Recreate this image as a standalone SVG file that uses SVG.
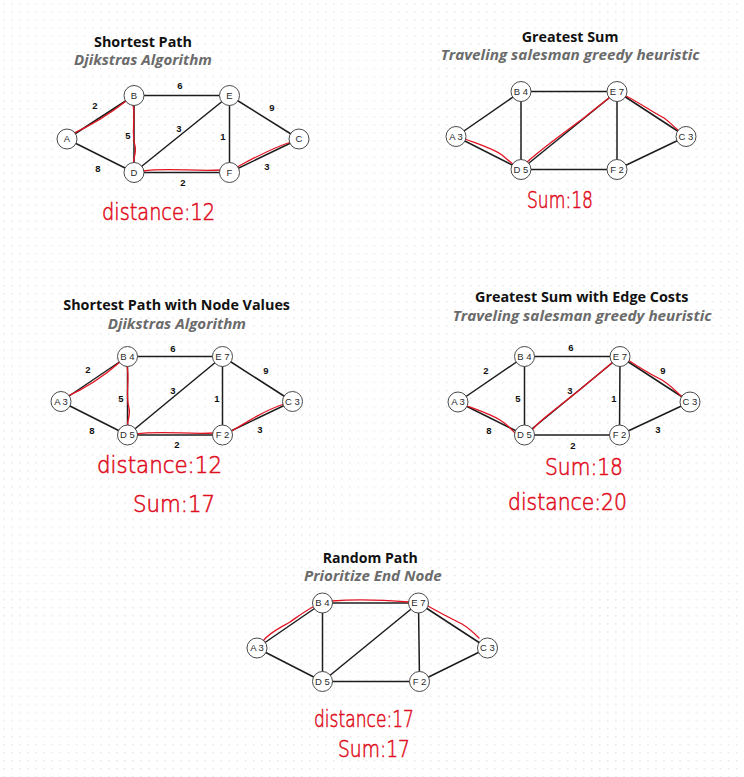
<svg xmlns="http://www.w3.org/2000/svg" width="744" height="777" viewBox="0 0 744 777">
<defs>
<pattern id="dots" x="3.3" y="3.3" width="8.05" height="8.05" patternUnits="userSpaceOnUse">
<circle cx="0.7" cy="0.7" r="0.75" fill="#e2e2e2"/>
</pattern>
<style>
.node circle{fill:#fff;stroke:#4a4a4a;stroke-width:1}
.node text{font-family:"Liberation Sans",Arial,sans-serif;font-size:9.5px;fill:#2a2a2a;text-anchor:middle}
.edge{stroke:#1c1c1c;stroke-width:1.5}
.hl{stroke:#e31322;stroke-width:1.3;fill:none;stroke-linecap:round;stroke-linejoin:round}
.w{font-family:"Liberation Sans",Arial,sans-serif;font-weight:700;font-size:9.5px;text-anchor:middle;fill:#111}
.title{font-family:"Open Sans","Liberation Sans",sans-serif;font-weight:700;font-size:13.5px;fill:#111}
.sub{font-family:"Open Sans","Liberation Sans",sans-serif;font-weight:700;font-style:italic;font-size:14px;fill:#6b6b6b}
.note{font-family:"DejaVu Sans","Liberation Sans",sans-serif;font-weight:200;font-size:23px;fill:#e0101f;stroke:#e0101f;stroke-width:0.6}
</style>
</defs>
<rect width="744" height="777" fill="#fff"/>
<rect width="744" height="777" fill="url(#dots)"/>

<!-- Panel 1 -->
<g id="panel1">
<text class="title" x="94" y="46.5" textLength="98" lengthAdjust="spacingAndGlyphs">Shortest Path</text>
<text class="sub" x="74" y="64.5" textLength="138" lengthAdjust="spacingAndGlyphs">Djikstras Algorithm</text>
<g id="p1-connectors">
<line class="edge" x1="67" y1="139" x2="134" y2="95.5"/>
<line class="edge" x1="67" y1="139" x2="134" y2="172.5"/>
<line class="edge" x1="134" y1="95.5" x2="229.5" y2="95.5"/>
<line class="edge" x1="134" y1="95.5" x2="134" y2="172.5"/>
<line class="edge" x1="229.5" y1="95.5" x2="134" y2="172.5"/>
<line class="edge" x1="229.5" y1="95.5" x2="229.5" y2="172.5"/>
<line class="edge" x1="229.5" y1="95.5" x2="299" y2="139"/>
<line class="edge" x1="134" y1="172.5" x2="229.5" y2="172.5"/>
<line class="edge" x1="229.5" y1="172.5" x2="299" y2="139"/>
<path class="hl" d="M72,134 Q101,121 126,101"/>
<path class="hl" d="M133,105 C136,118 131,132 135,146 C137,154 132,160 134,164"/>
<path class="hl" d="M143,171 C168,167 195,172 221,170"/>
<path class="hl" d="M237,167 C254,158 272,148 291,142"/>
<text class="w" x="95" y="109">2</text>
<text class="w" x="180" y="88.5">6</text>
<text class="w" x="272" y="110.5">9</text>
<text class="w" x="179" y="131.5">3</text>
<text class="w" x="128" y="138.5">5</text>
<text class="w" x="223" y="139.5">1</text>
<text class="w" x="98" y="171.5">8</text>
<text class="w" x="183" y="185.5">2</text>
<text class="w" x="267" y="169.5">3</text>
</g>
<g id="p1-A" class="node"><circle cx="67" cy="139" r="10"/><text x="67" y="142.3">A</text></g>
<g id="p1-B" class="node"><circle cx="134" cy="95.5" r="10"/><text x="134" y="98.8">B</text></g>
<g id="p1-E" class="node"><circle cx="229.5" cy="95.5" r="10"/><text x="229.5" y="98.8">E</text></g>
<g id="p1-C" class="node"><circle cx="299" cy="139" r="10"/><text x="299" y="142.3">C</text></g>
<g id="p1-D" class="node"><circle cx="134" cy="172.5" r="10"/><text x="134" y="175.8">D</text></g>
<g id="p1-F" class="node"><circle cx="229.5" cy="172.5" r="10"/><text x="229.5" y="175.8">F</text></g>
<text class="note" x="102" y="220" textLength="113" lengthAdjust="spacingAndGlyphs">distance:12</text>
</g>

<!-- Panel 2 -->
<g id="panel2">
<text class="title" x="521.7" y="42" textLength="96.7" lengthAdjust="spacingAndGlyphs">Greatest Sum</text>
<text class="sub" x="440.7" y="60" textLength="259" lengthAdjust="spacingAndGlyphs">Traveling salesman greedy heuristic</text>
<g id="p2-connectors">
<line class="edge" x1="456" y1="136.5" x2="521" y2="91.5"/>
<line class="edge" x1="456" y1="136.5" x2="521" y2="169.5"/>
<line class="edge" x1="521" y1="91.5" x2="617" y2="91.5"/>
<line class="edge" x1="521" y1="91.5" x2="521" y2="169.5"/>
<line class="edge" x1="617" y1="91.5" x2="521" y2="169.5"/>
<line class="edge" x1="617" y1="91.5" x2="617" y2="169.5"/>
<line class="edge" x1="617" y1="91.5" x2="686" y2="136.5"/>
<line class="edge" x1="521" y1="169.5" x2="617" y2="169.5"/>
<line class="edge" x1="617" y1="169.5" x2="686" y2="136.5"/>
<path class="hl" d="M465,139 C478,144 492,148 502,155 C508,160 511,163 513,164"/>
<path class="hl" d="M527,162 C545,146 565,132 585,117 C596,108 604,102 610,97"/>
<path class="hl" d="M626,96 C640,103 652,112 664,118 C671,123 675,128 678,130"/>
</g>
<g id="p2-A" class="node"><circle cx="456" cy="136.5" r="10"/><text x="456" y="139.8">A 3</text></g>
<g id="p2-B" class="node"><circle cx="521" cy="91.5" r="10"/><text x="521" y="94.8">B 4</text></g>
<g id="p2-E" class="node"><circle cx="617" cy="91.5" r="10"/><text x="617" y="94.8">E 7</text></g>
<g id="p2-C" class="node"><circle cx="686" cy="136.5" r="10"/><text x="686" y="139.8">C 3</text></g>
<g id="p2-D" class="node"><circle cx="521" cy="169.5" r="10"/><text x="521" y="172.8">D 5</text></g>
<g id="p2-F" class="node"><circle cx="617" cy="169.5" r="10"/><text x="617" y="172.8">F 2</text></g>
<text class="note" x="527" y="208" textLength="66" lengthAdjust="spacingAndGlyphs">Sum:18</text>
</g>

<!-- Panel 3 -->
<g id="panel3">
<text class="title" x="63.3" y="310" textLength="226.7" lengthAdjust="spacingAndGlyphs">Shortest Path with Node Values</text>
<text class="sub" x="107.7" y="328.5" textLength="138.3" lengthAdjust="spacingAndGlyphs">Djikstras Algorithm</text>
<g id="p3-connectors">
<line class="edge" x1="61" y1="401.5" x2="127.5" y2="356.5"/>
<line class="edge" x1="61" y1="401.5" x2="127.5" y2="435"/>
<line class="edge" x1="127.5" y1="356.5" x2="222.5" y2="356.5"/>
<line class="edge" x1="127.5" y1="356.5" x2="127.5" y2="435"/>
<line class="edge" x1="222.5" y1="356.5" x2="127.5" y2="435"/>
<line class="edge" x1="222.5" y1="356.5" x2="222.5" y2="435"/>
<line class="edge" x1="222.5" y1="356.5" x2="292.5" y2="401.5"/>
<line class="edge" x1="127.5" y1="435" x2="222.5" y2="435"/>
<line class="edge" x1="222.5" y1="435" x2="292.5" y2="401.5"/>
<path class="hl" d="M66,397 Q95,384 120,362"/>
<path class="hl" d="M127,366 C130,380 125,394 129,408 C131,417 126,422 128,426"/>
<path class="hl" d="M136,434 C162,430 190,435 214,433"/>
<path class="hl" d="M230,432 C248,421 266,410 284,404"/>
<text class="w" x="173" y="351.5">6</text>
<text class="w" x="88" y="372.5">2</text>
<text class="w" x="266" y="373.5">9</text>
<text class="w" x="173" y="393.5">3</text>
<text class="w" x="121" y="401.5">5</text>
<text class="w" x="217" y="401.5">1</text>
<text class="w" x="92" y="433.5">8</text>
<text class="w" x="177" y="448">2</text>
<text class="w" x="260" y="432.5">3</text>
</g>
<g id="p3-A" class="node"><circle cx="61" cy="401.5" r="10"/><text x="61" y="404.8">A 3</text></g>
<g id="p3-B" class="node"><circle cx="127.5" cy="356.5" r="10"/><text x="127.5" y="359.8">B 4</text></g>
<g id="p3-E" class="node"><circle cx="222.5" cy="356.5" r="10"/><text x="222.5" y="359.8">E 7</text></g>
<g id="p3-C" class="node"><circle cx="292.5" cy="401.5" r="10"/><text x="292.5" y="404.8">C 3</text></g>
<g id="p3-D" class="node"><circle cx="127.5" cy="435" r="10"/><text x="127.5" y="438.3">D 5</text></g>
<g id="p3-F" class="node"><circle cx="222.5" cy="435" r="10"/><text x="222.5" y="438.3">F 2</text></g>
<text class="note" x="97" y="473" textLength="125" lengthAdjust="spacingAndGlyphs">distance:12</text>
<text class="note" x="133" y="512" textLength="82" lengthAdjust="spacingAndGlyphs">Sum:17</text>
</g>

<!-- Panel 4 -->
<g id="panel4">
<text class="title" x="475" y="302" textLength="213.3" lengthAdjust="spacingAndGlyphs">Greatest Sum with Edge Costs</text>
<text class="sub" x="452.7" y="320.5" textLength="259" lengthAdjust="spacingAndGlyphs">Traveling salesman greedy heuristic</text>
<g id="p4-connectors">
<line class="edge" x1="458" y1="402" x2="524.5" y2="356.5"/>
<line class="edge" x1="458" y1="402" x2="524.5" y2="435"/>
<line class="edge" x1="524.5" y1="356.5" x2="620" y2="356.5"/>
<line class="edge" x1="524.5" y1="356.5" x2="524.5" y2="435"/>
<line class="edge" x1="620" y1="356.5" x2="524.5" y2="435"/>
<line class="edge" x1="620" y1="356.5" x2="619.5" y2="435"/>
<line class="edge" x1="620" y1="356.5" x2="690" y2="402"/>
<line class="edge" x1="524.5" y1="435" x2="619.5" y2="435"/>
<line class="edge" x1="619.5" y1="435" x2="690" y2="402"/>
<path class="hl" d="M467,406 C478,410 490,414 500,420 C507,424 512,430 515,433"/>
<path class="hl" d="M531,433 C528,435 533,427 548,415 C570,398 592,380 613,362"/>
<path class="hl" d="M628,360 C640,368 650,374 662,380 C670,385 676,391 681,396"/>
<text class="w" x="571" y="351">6</text>
<text class="w" x="486" y="373.5">2</text>
<text class="w" x="663" y="373.5">9</text>
<text class="w" x="570" y="393.5">3</text>
<text class="w" x="518" y="401.5">5</text>
<text class="w" x="614" y="401.5">1</text>
<text class="w" x="489" y="433.5">8</text>
<text class="w" x="573" y="449">2</text>
<text class="w" x="658" y="432.5">3</text>
</g>
<g id="p4-A" class="node"><circle cx="458" cy="402" r="10"/><text x="458" y="405.3">A 3</text></g>
<g id="p4-B" class="node"><circle cx="524.5" cy="356.5" r="10"/><text x="524.5" y="359.8">B 4</text></g>
<g id="p4-E" class="node"><circle cx="620" cy="356.5" r="10"/><text x="620" y="359.8">E 7</text></g>
<g id="p4-C" class="node"><circle cx="690" cy="402" r="10"/><text x="690" y="405.3">C 3</text></g>
<g id="p4-D" class="node"><circle cx="524.5" cy="435" r="10"/><text x="524.5" y="438.3">D 5</text></g>
<g id="p4-F" class="node"><circle cx="619.5" cy="435" r="10"/><text x="619.5" y="438.3">F 2</text></g>
<text class="note" x="545" y="475" textLength="78" lengthAdjust="spacingAndGlyphs">Sum:18</text>
<text class="note" x="508" y="510" textLength="119" lengthAdjust="spacingAndGlyphs">distance:20</text>
</g>

<!-- Panel 5 -->
<g id="panel5">
<text class="title" x="322.7" y="563" textLength="95" lengthAdjust="spacingAndGlyphs">Random Path</text>
<text class="sub" x="304" y="581" textLength="137.7" lengthAdjust="spacingAndGlyphs">Prioritize End Node</text>
<g id="p5-connectors">
<line class="edge" x1="257" y1="648" x2="322.5" y2="603"/>
<line class="edge" x1="257" y1="648" x2="322.5" y2="681.5"/>
<line class="edge" x1="322.5" y1="603" x2="418.5" y2="603"/>
<line class="edge" x1="322.5" y1="603" x2="322.5" y2="681.5"/>
<line class="edge" x1="418.5" y1="603" x2="322.5" y2="681.5"/>
<line class="edge" x1="418.5" y1="603" x2="419.5" y2="681.5"/>
<line class="edge" x1="418.5" y1="603" x2="487.5" y2="648"/>
<line class="edge" x1="322.5" y1="681.5" x2="419.5" y2="681.5"/>
<line class="edge" x1="419.5" y1="681.5" x2="487.5" y2="648"/>
<path class="hl" d="M263,641 C270,632 280,628 290,622 C300,615 308,609 315,606"/>
<path class="hl" d="M332,601 C355,599 385,600 409,602"/>
<path class="hl" d="M428,606 C440,613 450,618 462,624 C469,628 475,634 479,638"/>
</g>
<g id="p5-A" class="node"><circle cx="257" cy="648" r="10"/><text x="257" y="651.3">A 3</text></g>
<g id="p5-B" class="node"><circle cx="322.5" cy="603" r="10"/><text x="322.5" y="606.3">B 4</text></g>
<g id="p5-E" class="node"><circle cx="418.5" cy="603" r="10"/><text x="418.5" y="606.3">E 7</text></g>
<g id="p5-C" class="node"><circle cx="487.5" cy="648" r="10"/><text x="487.5" y="651.3">C 3</text></g>
<g id="p5-D" class="node"><circle cx="322.5" cy="681.5" r="10"/><text x="322.5" y="684.8">D 5</text></g>
<g id="p5-F" class="node"><circle cx="419.5" cy="681.5" r="10"/><text x="419.5" y="684.8">F 2</text></g>
<text class="note" x="314" y="727" textLength="100" lengthAdjust="spacingAndGlyphs">distance:17</text>
<text class="note" x="338" y="757" textLength="72" lengthAdjust="spacingAndGlyphs">Sum:17</text>
</g>
</svg>
